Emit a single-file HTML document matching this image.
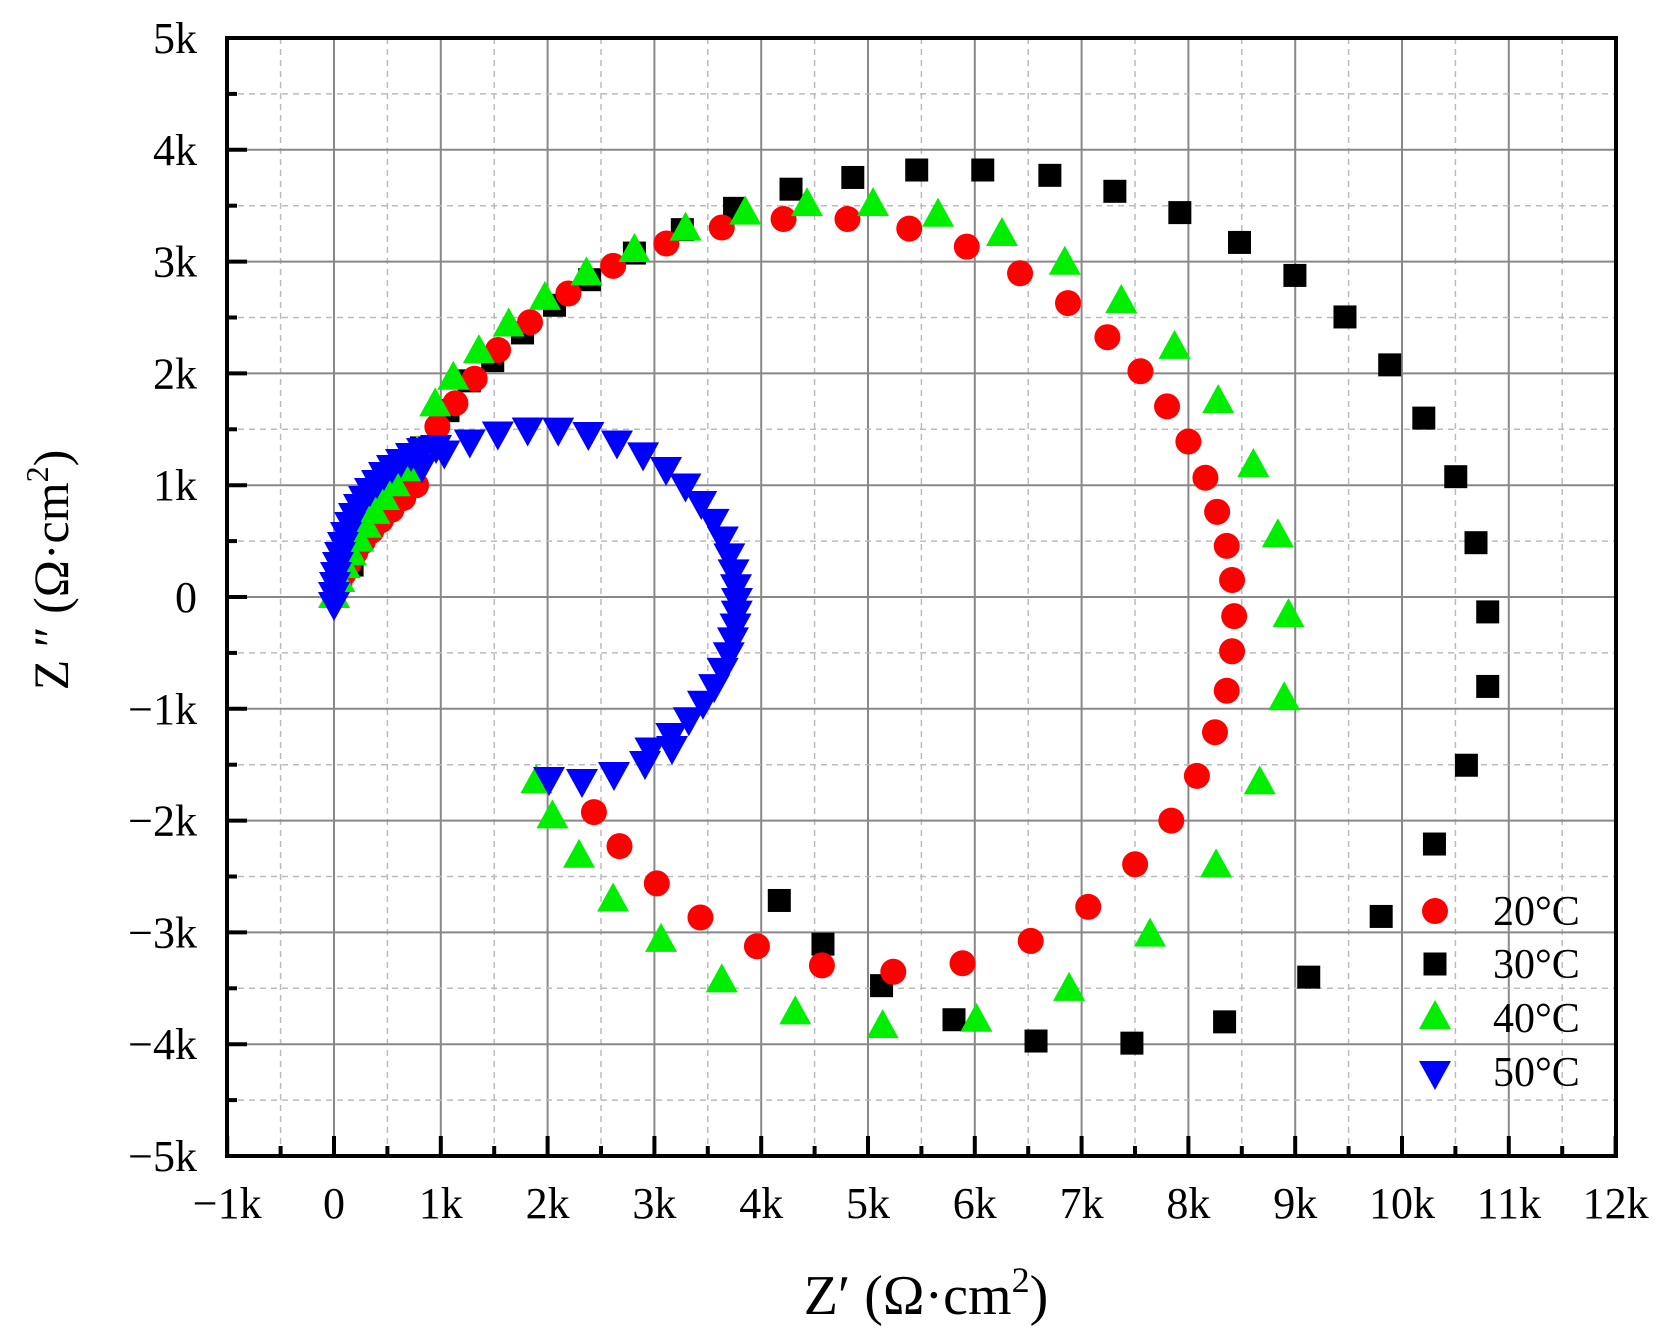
<!DOCTYPE html>
<html><head><meta charset="utf-8"><style>
html,body{margin:0;padding:0;background:#fff;}
svg{display:block;}
text{font-family:"Liberation Serif",serif;fill:#000;}
</style></head><body>
<svg id="s" width="1670" height="1331" viewBox="0 0 1670 1331" xmlns="http://www.w3.org/2000/svg">
<g id="grid"></g>
<g id="pts"></g>
<g id="axes"></g>
<g id="labels" font-size="44"></g>
<text x="926" y="1314" font-size="56" text-anchor="middle">Z′  (Ω·cm<tspan dy="-22" font-size="36">2</tspan><tspan dy="22">)</tspan></text>
<text transform="translate(68,570) rotate(-90)" font-size="50" text-anchor="middle">Z ″ (Ω·cm<tspan dy="-20" font-size="32">2</tspan><tspan dy="20">)</tspan></text>
<g id="legend" font-size="42"></g>
</svg>
<script>
const NS="http://www.w3.org/2000/svg";
function el(p,t,a){const e=document.createElementNS(NS,t);for(const k in a)e.setAttribute(k,a[k]);p.appendChild(e);return e;}
const L=227,R=1616,T=38,B=1156,X0=334,KX=106.8,Y0=597,KY=111.8;
const g=document.getElementById('grid'),ax=document.getElementById('axes'),lb=document.getElementById('labels');
for(let v=-1;v<=12;v+=0.5){const x=X0+v*KX;if(x<=L+2||x>=R-2)continue;
 if(Number.isInteger(v))el(g,'line',{x1:x,y1:T,x2:x,y2:B,stroke:'#888','stroke-width':2});
 else el(g,'line',{x1:x,y1:T,x2:x,y2:B,stroke:'#bbb','stroke-width':1.5,'stroke-dasharray':'6,5'});}
for(let v=-5;v<=5;v+=0.5){const y=Y0-v*KY;if(y<=T+2||y>=B-2)continue;
 if(Number.isInteger(v))el(g,'line',{x1:L,y1:y,x2:R,y2:y,stroke:'#888','stroke-width':2});
 else el(g,'line',{x1:L,y1:y,x2:R,y2:y,stroke:'#bbb','stroke-width':1.5,'stroke-dasharray':'6,5'});}
el(ax,'rect',{x:L,y:T,width:R-L,height:B-T,fill:'none',stroke:'#000','stroke-width':4});
for(let v=-1;v<=12;v+=0.5){const x=X0+v*KX;const len=Number.isInteger(v)?20:10;
 el(ax,'line',{x1:x,y1:B,x2:x,y2:B-len,stroke:'#000','stroke-width':4});
 if(Number.isInteger(v)){const t=el(lb,'text',{x:x,y:1218,'text-anchor':'middle'});t.textContent=v==0?'0':(v<0?'−':'')+Math.abs(v)+'k';}}
for(let v=-5;v<=5;v+=0.5){const y=Y0-v*KY;const len=Number.isInteger(v)?20:10;
 el(ax,'line',{x1:L,y1:y,x2:L+len,y2:y,stroke:'#000','stroke-width':4});
 if(Number.isInteger(v)){const t=el(lb,'text',{x:197,y:y+15,'text-anchor':'end'});t.textContent=v==0?'0':(v<0?'−':'')+Math.abs(v)+'k';}}
const P=document.getElementById('pts');
function mk(p,type,x,y){
 if(type=='c')el(p,'circle',{cx:x,cy:y,r:13,fill:'#f00'});
 else if(type=='s')el(p,'rect',{x:x-11.5,y:y-11.5,width:23,height:23,fill:'#000'});
 else if(type=='u')el(p,'polygon',{points:`${x},${y-18} ${x+16},${y+11} ${x-16},${y+11}`,fill:'#0e0'});
 else el(p,'polygon',{points:`${x},${y+18} ${x+16},${y-11} ${x-16},${y-11}`,fill:'#00f'});}
function conv(a){return a.map(([dx,dy])=>[334+(dx-313)*1.0653,597+(dy-560)*1.0648]);}
const black=[[330,530],[350,480],[370,455],[395,420],[420,385],[440,357],[462,338],[490,312],[520,286],[553,262],[595,237],[640,215],[689,195],[742,177],[800,166],[860,159],[922,159],[985,164],[1046,179],[1107,199],[1163,227],[1215,258],[1262,297],[1304,342],[1336,392],[1366,447],[1385,509],[1396,574],[1396,644],[1376,718],[1346,792],[1296,860],[1228,917],[1149,959],[1062,979],[972,977],[895,957],[827,925],[772,886],[731,845]];
const red=[[318,548],[322,538],[327,528],[333,518],[340,508],[348,498],[357,488],[367,478],[378,467],[390,455],[395,425],[410,400],[427,378],[445,355],[467,328],[497,302],[533,275],[575,249],[625,228],[677,213],[735,205],[795,205],[853,214],[907,231],[957,256],[1002,284],[1039,316],[1070,348],[1095,381],[1115,414],[1131,448],[1142,480],[1151,512],[1156,544],[1158,578],[1156,611],[1151,648],[1140,687],[1123,728],[1099,770],[1065,811],[1021,851],[967,883],[903,904],[838,912],[771,906],[710,888],[657,861],[616,829],[581,794],[557,762]];
const green=[[313,560],[318,545],[323,532],[329,520],[336,507],[343,494],[351,481],[360,468],[370,455],[380,441],[391,425],[408,380],[425,355],[449,330],[477,305],[511,280],[550,257],[595,235],[643,215],[699,200],[757,192],[819,192],[880,202],[940,220],[999,247],[1052,283],[1102,326],[1143,377],[1176,437],[1199,503],[1209,578],[1205,656],[1182,735],[1141,813],[1079,878],[1003,929],[916,958],[828,964],[746,951],[677,921],[620,883],[575,845],[543,804],[518,767],[503,734]];
const gb=el(P,'g',{}),gr=el(P,'g',{}),gg=el(P,'g',{}),gbl=el(P,'g',{});
conv(black).forEach(p=>mk(gb,'s',p[0],p[1]));
conv(red).forEach(p=>mk(gr,'c',p[0],p[1]));
conv(green).forEach(p=>mk(gg,'u',p[0],p[1]));
const blue=[[334,600],[334,590],[335,580],[336,570],[338,560],[340,550],[343,540],[346,530],[350,520],[354,511],[359,502],[364,494],[370,486],[377,478],[384,470],[392,463],[401,457],[411,451],[422,446],[436,443]];
let t=-38;while(t<=148){const r=t*Math.PI/180;blue.push([542+195*Math.sin(r),600-175*Math.cos(r)]);t+=4+5*Math.abs(Math.cos(r));}
[[672,744],[645,759],[614,770],[582,777],[549,775]].forEach(p=>blue.push(p));
blue.forEach(p=>mk(gbl,'d',p[0],p[1]+3));
const lg=document.getElementById('legend');
[['c','20°C',911],['s','30°C',964],['u','40°C',1018],['d','50°C',1072]].forEach(([m,s,y])=>{
 mk(lg,m,1435,y);const tx=el(lg,'text',{x:1493,y:y+14});tx.textContent=s;});
</script>
</body></html>
